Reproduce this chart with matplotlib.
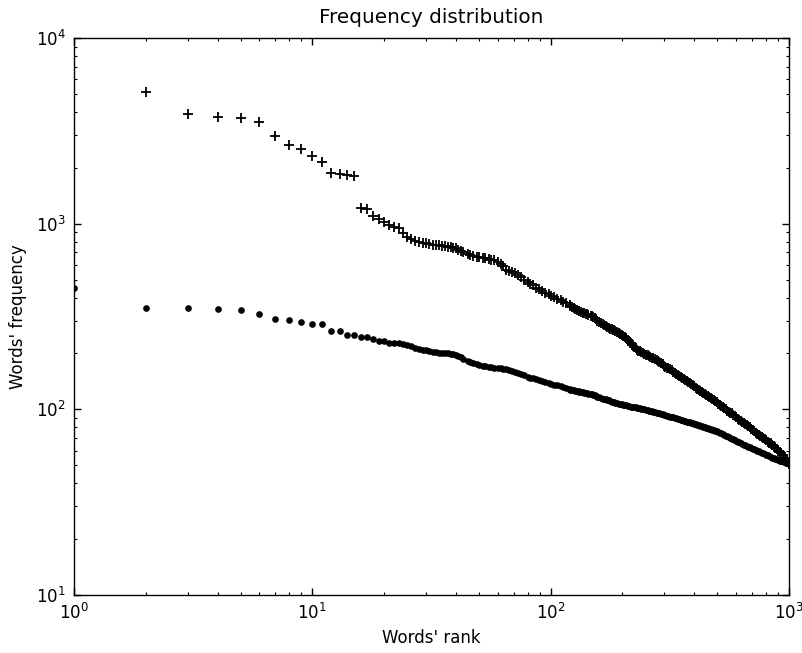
import matplotlib
matplotlib.use("Agg")
import matplotlib.pyplot as plt

# word ranks: every rank up to 34, then a thinned set up to 1000
ranks = [
    1, 2, 3, 4, 5, 6, 7, 8, 9, 10, 11, 12, 13, 14, 15, 16, 17, 18, 19, 20,
    21, 22, 23, 24, 25, 26, 27, 28, 29, 30, 31, 32, 33, 34,
    35, 36, 37, 38, 39, 40, 41, 42, 43, 45,
    46, 47, 49, 50, 52, 53, 55, 56, 58, 60,
    62, 63, 65, 67, 69, 71, 73, 75, 77, 80,
    82, 84, 87, 89, 92, 95, 98, 100, 103, 106,
    110, 113, 116,
    120, 121, 123, 125, 127, 129, 131, 132, 134, 136,
    138, 140, 142, 144, 147, 149, 151, 153, 155, 157,
    160, 162, 165, 167, 170, 172, 175, 177, 180, 182,
    185, 187, 190, 193, 196, 199, 202, 205, 208, 211,
    214, 217, 220, 223, 227, 230, 233, 236, 240, 243,
    247, 251, 255, 258, 262, 266, 270, 274, 278, 282,
    286, 290, 295, 299, 303, 307, 312, 317, 322, 326,
    331, 336, 341, 346, 351, 356, 361, 366, 372, 377,
    383, 388, 394, 400, 406, 412, 418, 424, 430, 436,
    443, 449, 456, 462, 469, 476, 483, 490, 497, 504,
    512, 519, 527, 535, 543, 551, 559, 567, 575, 583,
    592, 601, 610, 619, 628, 637, 646, 655, 665, 675,
    685, 695, 705, 715, 726, 737, 748, 759, 770, 781,
    792, 804, 816, 828, 840, 852, 865, 877, 890, 903,
    916, 929, 943, 957, 971, 985, 1000,
]

# frequencies drawn with "+"
freq_plus = [
    12000, 5100, 3880, 3740, 3690, 3530, 2970, 2650, 2530, 2310, 2160, 1870,
    1845, 1820, 1805, 1210, 1205, 1100, 1055, 1025, 985, 960, 945, 890, 850,
    825, 808, 800, 790, 785, 778, 770, 767, 765,
    760, 755, 750, 745, 742, 738, 725, 712, 700, 684,
    677, 672, 665, 660, 654, 650, 643, 640, 636, 625,
    608, 590, 565, 558, 552, 542, 528, 515, 500, 485,
    475, 466, 452, 444, 435, 425, 416, 410, 403, 395,
    386, 380, 374,
    365, 362, 358, 353, 348, 344, 340, 338, 335, 332,
    330, 328, 325, 323, 320, 317, 314, 310, 305, 300,
    295, 291, 287, 284, 280, 277, 275, 272, 270, 268,
    266, 263, 261, 258, 254, 250, 247, 244, 241, 236,
    232, 227, 222, 218, 213, 210, 207, 205, 203, 201,
    199, 197, 195, 193, 192, 190, 188, 186, 184, 182,
    180, 177, 175, 172, 170, 168, 166, 164, 162, 159,
    157, 155, 153, 151, 149, 148, 146, 144, 142, 140,
    139, 137, 135, 133, 131, 129, 127, 125.5, 124, 122.5,
    121, 119.5, 118, 116.5, 115, 113.5, 112, 110.5, 109, 107,
    105, 104, 103, 101.5, 100, 98.5, 97, 96, 95, 93.5,
    92, 90.5, 89, 88, 87, 85.5, 84, 83, 82, 81,
    80, 78.5, 77, 76, 75, 74, 73, 72, 71, 70,
    69, 68, 67, 66, 65.5, 64.5, 63.5, 62, 61, 60,
    59, 58, 56.5, 55, 54, 52.5, 51,
]

# frequencies drawn with dots
freq_dot = [
    448, 352, 351, 345, 342, 325, 305, 302, 295, 288, 287, 265, 263, 252, 251,
    246, 245, 240, 233, 232, 229, 228, 227, 226, 222, 220, 214, 212, 210, 208,
    206, 204, 203, 202,
    201, 200, 200, 199, 198, 196, 194, 191, 187, 182,
    179, 177, 175, 173, 172, 171, 170, 169, 168, 167,
    166, 165, 164, 162, 160, 158, 156, 155, 153, 150,
    148, 147, 145, 144, 142, 140, 138, 137, 136, 135,
    134, 132, 130,
    128, 127.5, 127, 126.5, 126, 125.5, 125, 124.5, 124, 123.5,
    123, 122.5, 122, 121.5, 121, 120.5, 120, 119, 118, 117,
    116, 115, 114, 113.5, 113, 112.5, 112, 111, 110, 109.5,
    109, 108.5, 108, 107.5, 107, 106.5, 106, 105.5, 105, 104.5,
    104, 103.5, 103, 102.8, 102.5, 102.2, 102, 101.5, 101, 100.5,
    100, 99.5, 99, 98.5, 98, 97.5, 97, 96.5, 96, 95.5,
    95, 94.5, 94, 93.5, 93, 92.5, 92, 91.5, 91, 90.5,
    90, 89.5, 89, 88.5, 88, 87.5, 87, 86.5, 86, 85.5,
    85, 84.5, 84, 83.5, 83, 82.5, 82, 81.5, 81, 80.5,
    80, 79.5, 79, 78.5, 78, 77.5, 77, 76.5, 76, 75.5,
    75, 74.2, 73.5, 72.8, 72, 71.5, 71, 70.2, 69.5, 69,
    68.5, 67.8, 67, 66.5, 66, 65.2, 64.5, 64, 63.5, 63,
    62.5, 62, 61.5, 61, 60.5, 60, 59.5, 59, 58.5, 58,
    57.5, 57, 56.5, 56, 55.5, 55, 54.5, 54.2, 54, 53.5,
    53, 52.8, 52.5, 52, 51.5, 51.2, 51,
]

plt.rcParams["font.family"] = ["DejaVu Sans"]
plt.rcParams["font.size"] = 12

fig = plt.figure(figsize=(8.02, 6.53), dpi=100)
ax = fig.add_axes([0.0923, 0.0888, 0.8915, 0.853])

ax.plot(ranks, freq_plus, linestyle="none", marker="+", markersize=7.5,
        markeredgewidth=1.3, color="black")
ax.plot(ranks, freq_dot, linestyle="none", marker="o", markersize=4.8,
        markeredgewidth=0, color="black")

ax.set_xscale("log")
ax.set_yscale("log")
ax.set_xlim(1, 1000)
ax.set_ylim(10, 10000)

ax.tick_params(which="both", direction="in", top=True, right=True, labelsize=12)
ax.tick_params(which="major", length=5, width=1, pad=6)
ax.tick_params(which="minor", length=2.5, width=0.8)
for s in ax.spines.values():
    s.set_linewidth(1.0)

ax.set_title("Frequency distribution", fontsize=14.4, pad=11)
ax.set_xlabel("Words' rank")
ax.set_ylabel("Words' frequency", labelpad=6)

fig.savefig("out.png", dpi=100, facecolor="white")
